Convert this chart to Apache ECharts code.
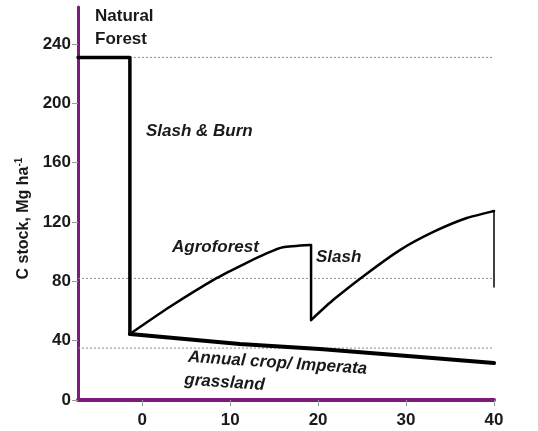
<!DOCTYPE html>
<html>
<head>
<meta charset="utf-8">
<script src="https://cdn.jsdelivr.net/npm/echarts@6/dist/echarts.min.js"></script>
<style>
  html, body { margin: 0; padding: 0; background: #fff; }
  #main { width: 538px; height: 431px; }
</style>
</head>
<body>
<div id="main"></div>
<script>
  // x = years, y = C stock (Mg/ha)
  const forest = [[-7.3, 231], [-1.4, 231], [-1.4, 44.5]];
  const annualCrop = [[-1.4, 44.5], [11.1, 37.8], [20.2, 34.4], [31.6, 29.0], [40, 24.9]];
  const agroforest = [[-1.4, 44.5], [3.2, 63], [8.5, 82.3], [11.7, 92], [14.2, 99], [16.0, 103], [19.1, 104.5]];
  const slash = [[19.2, 104.5], [19.2, 53.9]];
  const regrowth = [[19.2, 53.9], [21.7, 67.4], [25.6, 85.5], [29.3, 101.1], [33.1, 113.3], [36.9, 122.7], [40, 127.4]];
  const rightEdge = [[40, 127.4], [40, 76.2]];
  // dotted reference levels: [start x, level]
  const refLines = [[-1.4, 231], [-7.3, 82], [-7.3, 35]];
  const xTicks = [0, 10, 20, 30, 40];
  const yTicks = [0, 40, 80, 120, 160, 200, 240];

  const FONT = '"Liberation Sans", Arial, sans-serif';
  const PURPLE = '#7d1a7e';
  const INK = '#1a1a1a';

  const chart = echarts.init(document.getElementById('main'), null, { renderer: 'canvas' });

  const lineSeries = (data, width, smooth) => ({
    type: 'line',
    data: data,
    showSymbol: false,
    smooth: smooth || false,
    lineStyle: { color: '#000', width: width, cap: 'round', join: 'round' },
    silent: true,
    animation: false
  });

  const refSeries = refLines.map(r => ({
    type: 'line',
    data: [[r[0], r[1]], [40, r[1]]],
    showSymbol: false,
    lineStyle: { color: '#8a8a8a', width: 1, type: [2, 2] },
    silent: true,
    animation: false,
    z: 1
  }));

  const txt = (text, x, y, italic) => ({
    type: 'text',
    x: x,
    y: y,
    style: {
      text: text,
      fill: INK,
      font: (italic ? 'italic ' : '') + 'bold 17px ' + FONT,
      verticalAlign: 'middle'
    }
  });

  const option = {
    backgroundColor: '#fff',
    animation: false,
    grid: { left: 78, right: 44, top: 7, bottom: 31 },
    xAxis: {
      type: 'value',
      min: -7.3,
      max: 40,
      axisLine: { show: true, onZero: false, lineStyle: { color: PURPLE, width: 4 } },
      axisTick: { show: true, length: 6, lineStyle: { color: '#999', width: 1 }, customValues: xTicks },
      axisLabel: { customValues: xTicks, margin: 12, color: INK, fontSize: 17, fontWeight: 'bold', fontFamily: FONT },
      splitLine: { show: false }
    },
    yAxis: {
      type: 'value',
      min: 0,
      max: 265,
      name: 'C stock, Mg ha{sup|-1}',
      nameLocation: 'middle',
      nameGap: 44,
      nameTextStyle: {
        color: INK, fontSize: 16, fontWeight: 'bold', fontFamily: FONT,
        padding: [0, 30, 0, 0],
        rich: { sup: { fontSize: 10, fontWeight: 'bold', fontFamily: FONT, color: INK, verticalAlign: 'top', padding: [0, 0, 8, 0] } }
      },
      axisLine: { show: true, onZero: false, lineStyle: { color: PURPLE, width: 3 } },
      axisTick: { show: true, length: 6, lineStyle: { color: '#999', width: 1 }, customValues: yTicks },
      axisLabel: { customValues: yTicks, margin: 7, color: INK, fontSize: 17, fontWeight: 'bold', fontFamily: FONT },
      splitLine: { show: false }
    },
    series: refSeries.concat([
      lineSeries(forest, 3.5),
      lineSeries(annualCrop, 4),
      lineSeries(agroforest, 2.5, 0.2),
      lineSeries(slash, 2.5),
      lineSeries(regrowth, 2.5, 0.2),
      lineSeries(rightEdge, 1.5)
    ]),
    graphic: [
      txt('Natural', 95, 16, false),
      txt('Forest', 95, 39, false),
      txt('Slash & Burn', 146, 131, true),
      txt('Agroforest', 172, 247, true),
      txt('Slash', 316, 257, true),
      {
        type: 'group',
        x: 188,
        y: 357,
        rotation: -0.068,
        children: [
          txt('Annual crop/ Imperata', 0, 0, true),
          txt('grassland', -2, 23, true)
        ]
      }
    ]
  };

  chart.setOption(option);
</script>
</body>
</html>
